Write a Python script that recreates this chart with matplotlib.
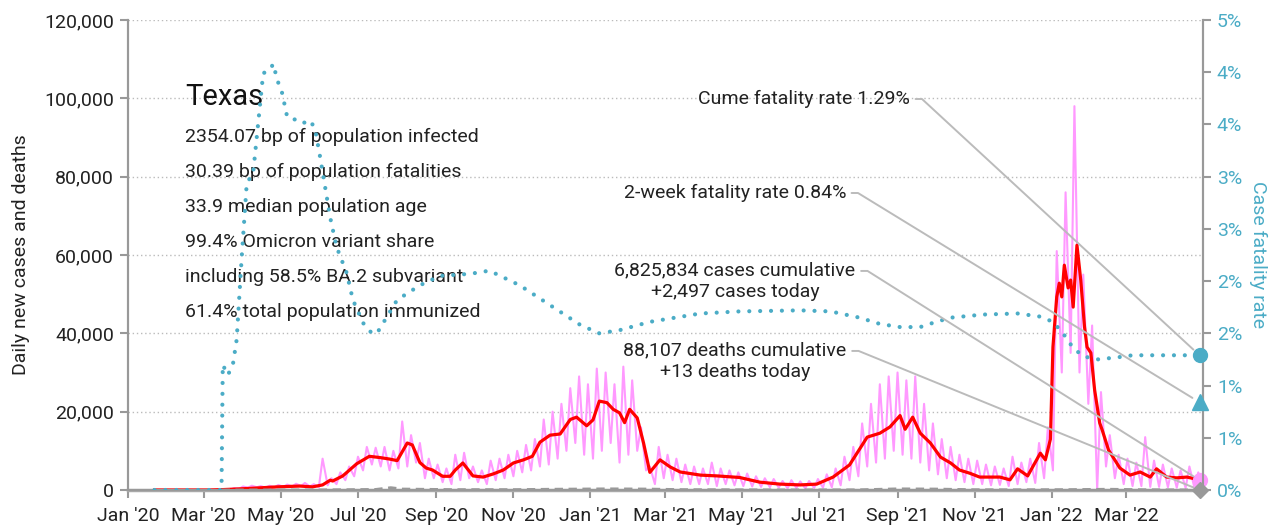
import math
import pandas as pd
import matplotlib
matplotlib.use("Agg")
import matplotlib.pyplot as plt
import matplotlib.dates as mdates
from matplotlib.ticker import FuncFormatter, MultipleLocator

plt.rcParams['font.family'] = ['Roboto', 'DejaVu Sans']

# 7-day average of new cases (red line)
red_dates = ['2020-01-22', '2020-03-05', '2020-03-16', '2020-04-06', '2020-04-28', '2020-05-16',
             '2020-05-26', '2020-06-03', '2020-06-09', '2020-06-11', '2020-06-19', '2020-06-30',
             '2020-07-10', '2020-07-18', '2020-07-26', '2020-08-01', '2020-08-09', '2020-08-13',
             '2020-08-19', '2020-08-24', '2020-08-29', '2020-09-06', '2020-09-12', '2020-09-16',
             '2020-09-22', '2020-09-30', '2020-10-08', '2020-10-16', '2020-10-24', '2020-11-01',
             '2020-11-09', '2020-11-16', '2020-11-22', '2020-11-30', '2020-12-08', '2020-12-16',
             '2020-12-21', '2020-12-29', '2021-01-03', '2021-01-08', '2021-01-14', '2021-01-19',
             '2021-01-24', '2021-01-28', '2021-02-01', '2021-02-07', '2021-02-12', '2021-02-17',
             '2021-02-25', '2021-03-05', '2021-03-13', '2021-03-29', '2021-04-11', '2021-04-29',
             '2021-05-15', '2021-05-31', '2021-06-16', '2021-06-29', '2021-07-12', '2021-07-25',
             '2021-08-08', '2021-08-18', '2021-08-26', '2021-09-03', '2021-09-07', '2021-09-13',
             '2021-09-19', '2021-09-27', '2021-10-05', '2021-10-13', '2021-10-20', '2021-10-28',
             '2021-11-05', '2021-11-21', '2021-11-29', '2021-12-05', '2021-12-13', '2021-12-23',
             '2021-12-27', '2021-12-31', '2022-01-02', '2022-01-05', '2022-01-07', '2022-01-09',
             '2022-01-11', '2022-01-14', '2022-01-16', '2022-01-18', '2022-01-21', '2022-01-24',
             '2022-01-27', '2022-01-29', '2022-02-01', '2022-02-04', '2022-02-08', '2022-02-10',
             '2022-02-15', '2022-02-24', '2022-03-04', '2022-03-12', '2022-03-20', '2022-03-25',
             '2022-04-02', '2022-04-10', '2022-04-18', '2022-04-28']
red_vals = [0, 0, 100, 400, 800, 1000,
            800, 1300, 2500, 2300, 3600, 6700,
            8600, 8300, 7900, 7500, 12000, 11500,
            7000, 5600, 5100, 3500, 3500, 5100,
            6900, 3600, 3300, 4100, 5100, 6900,
            7700, 8600, 12200, 14000, 14300, 18000,
            18600, 16400, 17900, 22700, 22300, 20600,
            19700, 17200, 20600, 18400, 12000, 4500,
            7700, 5900, 4600, 3800, 3600, 3200,
            2000, 1500, 1300, 1500, 3300, 6400,
            13500, 14500, 16100, 19000, 15500, 18600,
            14500, 12000, 8400, 6900, 5100, 4300,
            3300, 3300, 2600, 5400, 3600, 9400,
            7700, 13000, 36500, 49300, 52800, 49300,
            57400, 51600, 53600, 46700, 62500, 53600,
            41600, 36500, 35000, 25500, 17100, 15300,
            10200, 5600, 3800, 4600, 3300, 5400,
            3300, 3100, 3300, 2600]

# daily new cases (pink line): weekly high and low, weeks starting Monday
pink_week_start = '2020-03-02'
pink_hi = [10, 20, 100, 500, 900,
           1100, 1000, 1100, 1300,
           1400, 1600, 1800, 1500,
           8000, 3000, 4500, 6000, 8500,
           11000, 10800, 11000, 10000,
           17500, 14000, 12000, 8000, 6500,
           5500, 9000, 9500, 6000,
           5000, 7500, 8000, 9000,
           10000, 11500, 13000, 18000, 20000,
           22000, 26000, 29000, 27000,
           31000, 30000, 27000, 31500,
           28000, 16000, 6000, 11000,
           9000, 8000, 6500, 6000, 5500,
           7000, 5500, 5000, 4500,
           4200, 3500, 3000, 2800, 2300,
           2500, 2200, 2300, 2800,
           4000, 5500, 8500, 11000,
           17000, 22000, 27000, 29000, 30000,
           28000, 29000, 22000, 17000,
           13000, 11000, 9000, 8000,
           7500, 6500, 6000, 5500, 8500,
           7000, 8000, 12000, 16000,
           61000, 76000, 98000, 55000, 42000,
           25000, 14000, 9000, 8000,
           7000, 13500, 7500, 6500,
           5500, 5000, 6000, 4500]
pink_lo = [0, 5, 50, 300, 600,
           700, 600, 700, 800,
           900, 1000, 900, 700,
           1200, 1500, 2500, 3500, 5000,
           6500, 6000, 5000, 5500,
           6000, 7000, 3000, 3000, 2000,
           1500, 2500, 3000, 2000,
           1500, 2500, 3000, 3500,
           4500, 5000, 6000, 6500, 8000,
           10000, 12000, 9000, 8000,
           10000, 12000, 7000, 9000,
           10000, 5000, 1500, 3000,
           2500, 2000, 1500, 1500, 1500,
           1000, 1500, 1200, 1000,
           900, 800, 700, 600, 400,
           500, 400, 500, 600,
           700, 1200, 2500, 3500,
           6000, 7000, 8000, 10000, 9000,
           8000, 7000, 5000, 4000,
           3000, 2500, 2000, 1500,
           1500, 1200, 1300, 1000, 1500,
           2000, 1800, 3000, 5000,
           30000, 35000, 30000, 22000, 0,
           6000, 3000, 1500, 1000,
           1000, 800, 800, 700,
           600, 500, 500, 500]
cases_today = 2497

# daily deaths (grey dashed)
death_dates = ['2020-03-15', '2020-04-15', '2020-06-01', '2020-07-15', '2020-07-27', '2020-08-05',
               '2020-09-15', '2020-11-01', '2020-12-01', '2021-01-15', '2021-02-15', '2021-03-15',
               '2021-06-01', '2021-08-01', '2021-09-01', '2021-10-01', '2021-11-01', '2021-12-01',
               '2022-01-15', '2022-02-15', '2022-03-15', '2022-04-28']
death_vals = [0, 30, 30, 150, 600, 250, 100, 100, 200, 300, 250, 100,
              30, 50, 300, 250, 80, 60, 100, 200, 80, 13]

# cumulative case fatality rate, %
cfr_dates = ['2020-01-22', '2020-03-15', '2020-03-16', '2020-03-20', '2020-03-24', '2020-03-27',
             '2020-03-31', '2020-04-04', '2020-04-09', '2020-04-13', '2020-04-17', '2020-04-22',
             '2020-04-25', '2020-04-28', '2020-05-02', '2020-05-06', '2020-05-14', '2020-05-18',
             '2020-05-24', '2020-05-28', '2020-06-01', '2020-06-05', '2020-06-09', '2020-06-14',
             '2020-06-22', '2020-06-27', '2020-07-05', '2020-07-12', '2020-07-16', '2020-07-24',
             '2020-08-01', '2020-08-19', '2020-09-04', '2020-09-28', '2020-10-13', '2020-11-06',
             '2020-11-30', '2020-12-24', '2021-01-08', '2021-01-24', '2021-02-17', '2021-03-29',
             '2021-04-29', '2021-06-16', '2021-07-10', '2021-08-02', '2021-08-18', '2021-09-03',
             '2021-09-19', '2021-09-29', '2021-10-13', '2021-11-08', '2021-12-05', '2021-12-23',
             '2022-01-02', '2022-01-10', '2022-01-18', '2022-01-26', '2022-02-06', '2022-02-22',
             '2022-03-06', '2022-04-28']
cfr_vals = [0, 0, 1.2, 1.1, 1.2, 1.44,
            2.23, 2.94, 3.03, 3.51, 3.99, 4.02,
            4.08, 3.93, 3.80, 3.57, 3.54, 3.51,
            3.54, 3.46, 3.19, 2.90, 2.61, 2.33,
            2.08, 1.82, 1.60, 1.50, 1.50, 1.66,
            1.82, 1.96, 2.05, 2.07, 2.10, 1.96,
            1.77, 1.58, 1.50, 1.53, 1.61, 1.69,
            1.71, 1.72, 1.71, 1.65, 1.59, 1.56,
            1.56, 1.60, 1.65, 1.68, 1.69, 1.66,
            1.61, 1.50, 1.36, 1.28, 1.25, 1.27,
            1.29, 1.29]

last_date = '2022-04-28'
cume_cfr = 1.29
two_week_cfr = 0.84
deaths_today = 13

info_lines = ['2354.07 bp of population infected',
              '30.39 bp of population fatalities',
              '33.9 median population age',
              '99.4% Omicron variant share',
              'including 58.5% BA.2 subvariant',
              '61.4% total population immunized']

TEAL = '#4BACC6'
PINK = '#FF99FF'
RED = '#FF0000'
GREY = '#999999'
LINE = '#BBBBBB'
TXT = '#222222'

# build pink daily series from the weekly high / low readings
weeks = pd.date_range(pink_week_start, periods=min(len(pink_hi), len(pink_lo)), freq='7D')
pink_pts = [(pd.Timestamp('2020-01-22'), 0)]
for w, hi, lo in zip(weeks, pink_hi, pink_lo):
    pink_pts.append((w + pd.Timedelta(days=2), hi))
    pink_pts.append((w + pd.Timedelta(days=6), lo))
pink_pts.append((pd.Timestamp(last_date), cases_today))
pink_x = [p[0] for p in pink_pts]
pink_y = [p[1] for p in pink_pts]

fig = plt.figure(figsize=(12.78, 5.29), dpi=100)
ax = fig.add_axes([128 / 1278, 1 - 490 / 529, 1075 / 1278, 470 / 529])
ax2 = ax.twinx()

ax.plot(pink_x, pink_y, color=PINK, lw=1.5, zorder=2)
ax.plot(pd.to_datetime(red_dates), red_vals, color=RED, lw=2.3, zorder=3)
ax.plot(pd.to_datetime(death_dates), death_vals, color=GREY, lw=2, ls=(0, (3, 2)), zorder=3)

ax2.plot(pd.to_datetime(cfr_dates), cfr_vals, color=TEAL, lw=3, ls=(0, (0.01, 2.6)),
         dash_capstyle='round', zorder=3)

# end markers
ld = pd.Timestamp(last_date)
ldn = mdates.date2num(ld)
ax.plot([ld], [cases_today], 'o', color=PINK, ms=10, zorder=5, clip_on=False)
ax.plot([ld], [deaths_today], 'D', color=GREY, ms=8, zorder=5, clip_on=False)
ax2.plot([ld], [cume_cfr], 'o', color=TEAL, ms=10, zorder=5, clip_on=False)
ax2.plot([ld], [two_week_cfr], '^', color=TEAL, ms=11, zorder=5, clip_on=False)

# axes styling
ax.set_xlim(pd.Timestamp('2020-01-01'), pd.Timestamp('2022-04-30 18:00'))
ax.set_ylim(0, 120000)
ax2.set_ylim(0, 4.5)
ax.xaxis.set_major_locator(mdates.MonthLocator(bymonth=[1, 3, 5, 7, 9, 11]))
ax.xaxis.set_major_formatter(mdates.DateFormatter("%b '%y"))
ax.yaxis.set_major_locator(MultipleLocator(20000))
ax.yaxis.set_major_formatter(FuncFormatter(lambda v, p: f'{int(v):,}'))
ax2.yaxis.set_major_locator(MultipleLocator(0.5))
ax2.yaxis.set_major_formatter(FuncFormatter(lambda v, p: f'{int(math.floor(v + 0.5))}%'))

ax.grid(axis='y', color='#BBBBBB', ls=(0, (1, 2)), lw=1)
ax.set_axisbelow(True)
for a in (ax, ax2):
    a.spines['top'].set_visible(False)
    for s in ('left', 'right', 'bottom'):
        a.spines[s].set_color('#999999')
        a.spines[s].set_linewidth(1.5)
ax.spines['bottom'].set_linewidth(2.5)
ax.spines['bottom'].set_color('#aaaaaa')
ax.tick_params(axis='x', colors='#999999', labelcolor=TXT, labelsize=14, length=6, width=1.5, pad=6)
ax.tick_params(axis='y', colors='#999999', labelcolor=TXT, labelsize=14, length=6, width=1.5, pad=4)
ax2.tick_params(axis='y', colors='#999999', labelcolor=TEAL, labelsize=14, length=6, width=1.5, pad=4)
ax.set_ylabel('Daily new cases and deaths', fontsize=14, color=TXT, labelpad=10)
ax2.set_ylabel('Case fatality rate', fontsize=14, color=TEAL, rotation=-90, labelpad=18)

# state info block
ax.text(57 / 1075, 0.836, 'Texas', transform=ax.transAxes, fontsize=21, color='#111111',
        va='center', ha='left')
for i, line in enumerate(info_lines):
    ax.text(57 / 1075, (490 - 137 - 35 * i) / 470, line, transform=ax.transAxes,
            fontsize=14, color=TXT, va='center', ha='left')

# callouts
conn = 'arc,angleA=0,angleB=0,armA=12,armB=0,rad=0'
ax2.annotate(f'Cume fatality rate {cume_cfr:.2f}%', xy=(ldn, cume_cfr), xycoords=ax2.transData,
             xytext=((910 - 128) / 1075, (490 - 99) / 470), textcoords='axes fraction',
             ha='right', va='center', fontsize=14, color=TXT,
             arrowprops=dict(arrowstyle='-', color=LINE, lw=1.4, relpos=(1, 0.5),
                             shrinkA=2, shrinkB=6, connectionstyle=conn))
ax2.annotate(f'2-week fatality rate {two_week_cfr:.2f}%', xy=(ldn, two_week_cfr), xycoords=ax2.transData,
             xytext=((846 - 128) / 1075, (490 - 193) / 470), textcoords='axes fraction',
             ha='right', va='center', fontsize=14, color=TXT,
             arrowprops=dict(arrowstyle='-', color=LINE, lw=1.4, relpos=(1, 0.5),
                             shrinkA=2, shrinkB=6, connectionstyle=conn))
ax2.annotate('6,825,834 cases cumulative\n+{:,} cases today'.format(cases_today),
             xy=(ldn, cases_today), xycoords=ax.transData,
             xytext=((735 - 128) / 1075, (490 - 281) / 470), textcoords='axes fraction',
             ha='center', va='center', ma='center', fontsize=14, color=TXT, linespacing=1.3,
             arrowprops=dict(arrowstyle='-', color=LINE, lw=1.4, relpos=(1, 0.75),
                             shrinkA=2, shrinkB=5, connectionstyle=conn))
ax2.annotate('88,107 deaths cumulative\n+{} deaths today'.format(deaths_today),
             xy=(ldn, deaths_today), xycoords=ax.transData,
             xytext=((735 - 128) / 1075, (490 - 361) / 470), textcoords='axes fraction',
             ha='center', va='center', ma='center', fontsize=14, color=TXT, linespacing=1.3,
             arrowprops=dict(arrowstyle='-', color=LINE, lw=1.4, relpos=(1, 0.75),
                             shrinkA=2, shrinkB=5, connectionstyle=conn))

fig.savefig('out.png', dpi=100, facecolor='white')
